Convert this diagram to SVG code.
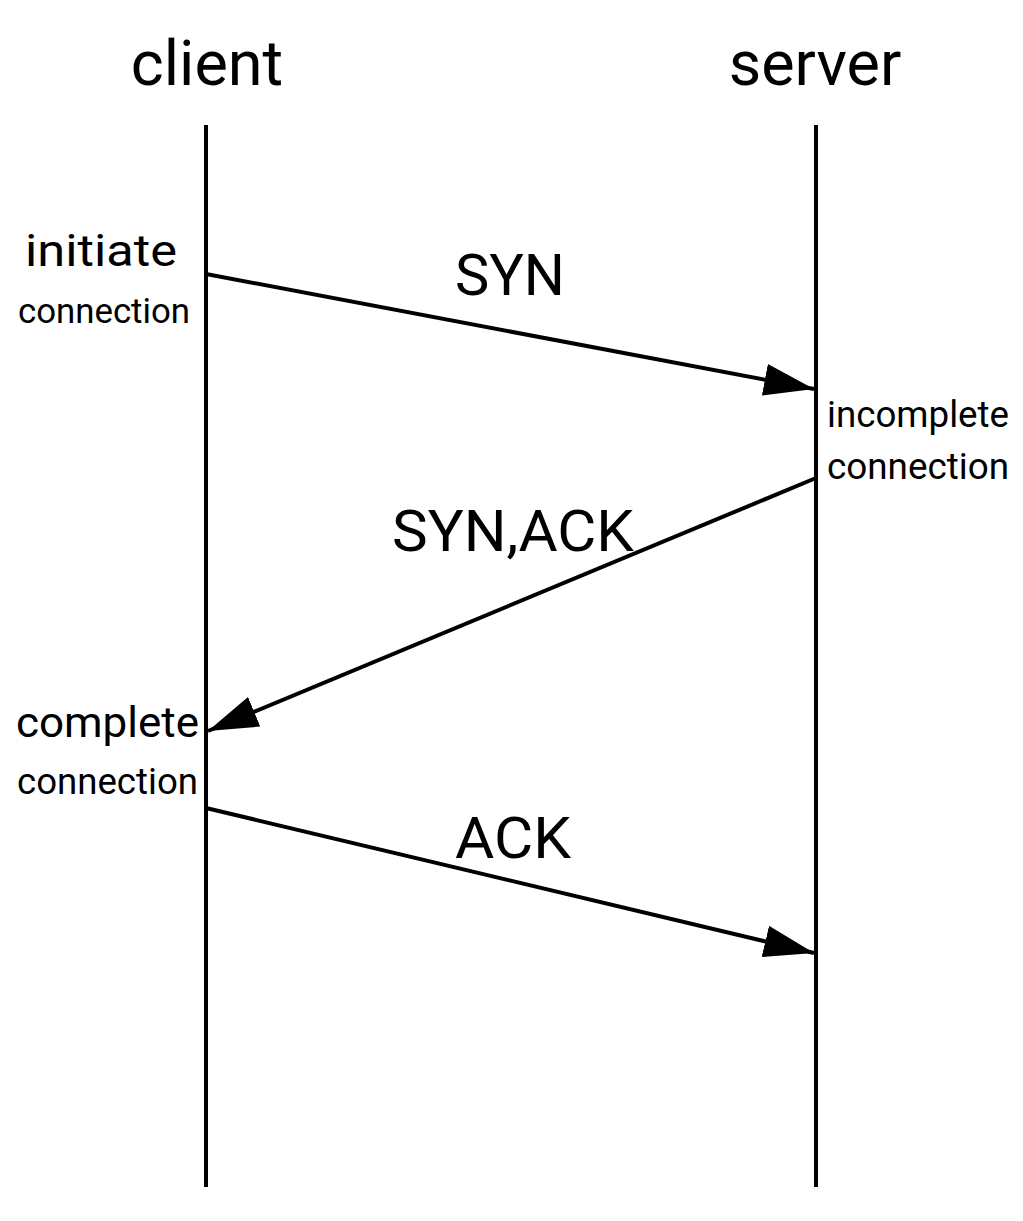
<svg xmlns="http://www.w3.org/2000/svg" width="1023" height="1221" viewBox="0 0 1023 1221">
<style>
text{font-family:Roboto,"Liberation Sans",sans-serif;fill:#000}
.life{stroke:#000;stroke-width:4;fill:none}
.msg{stroke:#000;stroke-width:4;fill:none;marker-end:url(#ah)}
</style>
<defs>
<marker id="ah" markerUnits="userSpaceOnUse" markerWidth="52" markerHeight="32" refX="50" refY="16" orient="auto" viewBox="0 0 52 32">
<path d="M0,0 L50,16 L0,32 z" fill="#000"/>
</marker>
</defs>
<rect width="1023" height="1221" fill="#fff"/>
<g id="client">
<text x="207" y="85" font-size="63" text-anchor="middle">client</text>
<line class="life" x1="206" y1="125" x2="206" y2="1187"/>
</g>
<g id="server">
<text x="815" y="85" font-size="63" text-anchor="middle">server</text>
<line class="life" x1="816" y1="125" x2="816" y2="1187"/>
</g>
<g id="notes">
<text x="25" y="266" font-size="44" textLength="152" lengthAdjust="spacingAndGlyphs">initiate</text>
<text x="18" y="323" font-size="35" textLength="172" lengthAdjust="spacingAndGlyphs">connection</text>
<text x="827" y="427" font-size="36" textLength="182" lengthAdjust="spacingAndGlyphs">incomplete</text>
<text x="827" y="479" font-size="36" textLength="182" lengthAdjust="spacingAndGlyphs">connection</text>
<text x="16" y="737" font-size="42" textLength="183" lengthAdjust="spacingAndGlyphs">complete</text>
<text x="17" y="794" font-size="36" textLength="181" lengthAdjust="spacingAndGlyphs">connection</text>
</g>
<g id="connectors">
<line class="msg" x1="206" y1="274" x2="814" y2="389"/>
<line class="msg" x1="816" y1="478" x2="208" y2="731"/>
<line class="msg" x1="206" y1="808" x2="814" y2="953"/>
</g>
<g id="labels">
<text x="455" y="295" font-size="57" textLength="110" lengthAdjust="spacingAndGlyphs">SYN</text>
<text x="392" y="551" font-size="57" textLength="242" lengthAdjust="spacingAndGlyphs">SYN,ACK</text>
<text x="455" y="858" font-size="58" textLength="116" lengthAdjust="spacingAndGlyphs">ACK</text>
</g>
</svg>
